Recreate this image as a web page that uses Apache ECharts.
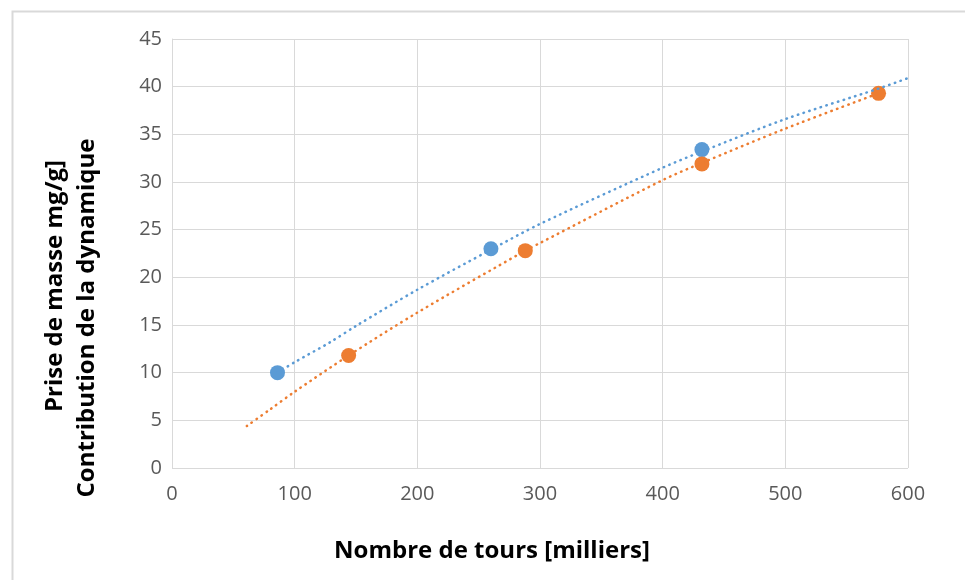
<!DOCTYPE html>
<html>
<head>
<meta charset="utf-8">
<script src="https://cdn.jsdelivr.net/npm/echarts@6/dist/echarts.min.js"></script>
<style>
  html, body { margin: 0; padding: 0; background: #fff; }
  #chart { width: 965px; height: 580px; }
</style>
</head>
<body>
<div id="chart"></div>
<script>
// points mesurés
var bluePts = [[86, 10.0], [260, 23.0], [432, 33.4]];
var orangePts = [[144, 11.8], [288, 22.8], [432, 31.9], [576, 39.3]];
// courbes de tendance
var blueTrend = [[86, 10.0], [100, 11.1], [129, 13.2], [150, 14.9], [200, 18.7], [260, 22.9], [300, 25.6], [400, 31.5], [432, 33.2], [500, 36.6], [576, 39.8], [600, 40.9]];
var orangeTrend = [[61, 4.4], [80, 6.15], [100, 8.0], [144, 11.8], [200, 16.3], [288, 22.8], [300, 23.6], [400, 30.2], [432, 32.0], [500, 35.6], [576, 39.3]];

var xTitle = 'Nombre de tours [milliers]';
var yTitle1 = 'Prise de masse mg/g]';
var yTitle2 = 'Contribution de la dynamique';

var blue = '#5B9BD5', orange = '#ED7D31';
var labelFont = '"Open Sans", sans-serif';

var myChart = echarts.init(document.getElementById('chart'));
var option = {
    animation: false,
    backgroundColor: '#fff',
    grid: { left: 172, top: 39, right: 57, bottom: 112 },
    xAxis: {
        type: 'value', min: 0, max: 600, interval: 100,
        axisLine: { show: false },
        axisTick: { show: false },
        splitLine: { lineStyle: { color: '#d9d9d9', width: 1 } },
        axisLabel: { color: '#595959', fontSize: 20, fontFamily: labelFont, margin: 16 }
    },
    yAxis: {
        type: 'value', min: 0, max: 45, interval: 5,
        axisLine: { show: true, lineStyle: { color: '#d9d9d9' } },
        axisTick: { show: false },
        splitLine: { lineStyle: { color: '#d9d9d9', width: 1 } },
        axisLabel: { color: '#595959', fontSize: 20, fontFamily: labelFont, margin: 10 }
    },
    graphic: [
        { type: 'rect', left: 10, top: 9, shape: { width: 1200, height: 1200 }, silent: true,
          style: { fill: 'none', stroke: '#d9d9d9', lineWidth: 2 } },
        { type: 'text', x: 492, y: 551,
          style: { text: xTitle, fill: '#000', font: 'bold 24px ' + labelFont, textAlign: 'center', textVerticalAlign: 'middle' } },
        { type: 'text', x: 55, y: 286, rotation: Math.PI / 2,
          style: { text: yTitle1, fill: '#000', font: 'bold 24px ' + labelFont, textAlign: 'center', textVerticalAlign: 'middle' } },
        { type: 'text', x: 87, y: 318, rotation: Math.PI / 2,
          style: { text: yTitle2, fill: '#000', font: 'bold 24px ' + labelFont, textAlign: 'center', textVerticalAlign: 'middle' } }
    ],
    series: [
        { name: 'tendance bleue', type: 'line', data: blueTrend, smooth: 0.3, showSymbol: false, silent: true,
          lineStyle: { color: blue, width: 2.5, type: [0.5, 5.5], cap: 'round' } },
        { name: 'tendance orange', type: 'line', data: orangeTrend, smooth: 0.3, showSymbol: false, silent: true,
          lineStyle: { color: orange, width: 2.5, type: [0.5, 5.5], cap: 'round' } },
        { name: 'bleu', type: 'scatter', data: bluePts, symbolSize: 15, itemStyle: { color: blue, opacity: 1 } },
        { name: 'orange', type: 'scatter', data: orangePts, symbolSize: 15, itemStyle: { color: orange, opacity: 1 } }
    ]
};
myChart.setOption(option);
</script>
</body>
</html>
